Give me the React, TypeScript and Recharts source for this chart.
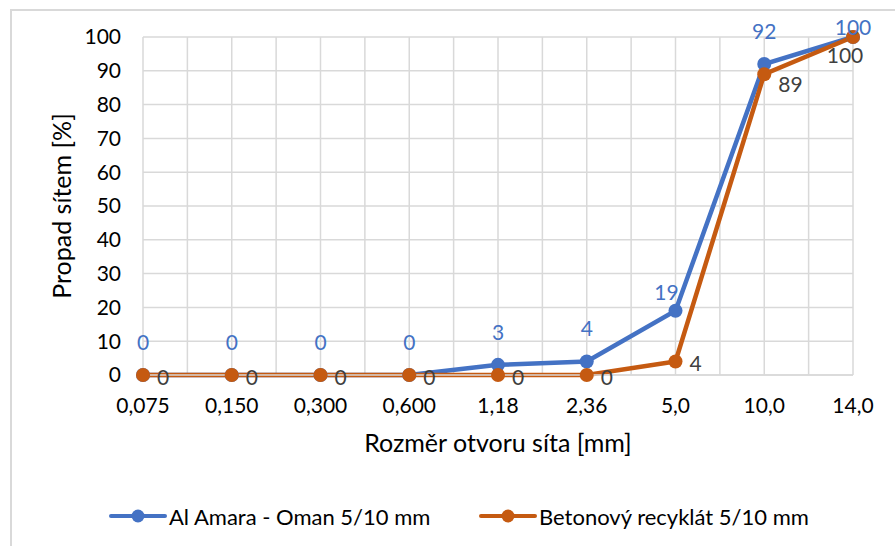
import React from "react";
import { CartesianGrid, Label, Line, LineChart, XAxis, YAxis } from "recharts";

const sieveSizes = ["0,075", "0,150", "0,300", "0,600", "1,18", "2,36", "5,0", "10,0", "14,0"];
const alAmara = [0, 0, 0, 0, 3, 4, 19, 92, 100];
const recyklat = [0, 0, 0, 0, 0, 0, 4, 89, 100];
const yTicks = [0, 10, 20, 30, 40, 50, 60, 70, 80, 90, 100];
const seriesNames = ["Al Amara - Oman 5/10 mm", "Betonový recyklát 5/10 mm"];

const BLUE = "#4472C4";
const ORANGE = "#C55A11";
const GRID = "#D9D9D9";
const FONT = "Lato, 'Open Sans', sans-serif";

const data = sieveSizes.map((size, i) => ({
  size,
  alAmara: alAmara[i],
  recyklat: recyklat[i],
}));

function BlueLabel(props: any) {
  const { x, y, value, index } = props;
  let dx = 0;
  let dy = -25;
  if (index === 6) {
    dx = -9;
    dy = -11;
  }
  if (index === 8) dy = -2;
  return (
    <text x={x + dx} y={y + dy} textAnchor="middle" fill={BLUE} fontSize={21} fontFamily={FONT}>
      {value}
    </text>
  );
}

function OrangeLabel(props: any) {
  const { x, y, value, index } = props;
  let dx = 14;
  let dy = 10;
  let anchor = "start";
  if (index === 7) dy = 18;
  if (index === 8) {
    dx = -8;
    dy = 26;
    anchor = "middle";
  }
  return (
    <text x={x + dx} y={y + dy} textAnchor={anchor} fill="#404040" fontSize={21} fontFamily={FONT}>
      {value}
    </text>
  );
}

function LegendItem({ color, name, left }: { color: string; name: string; left: number }) {
  return (
    <div style={{ position: "absolute", left, top: 502, display: "flex", alignItems: "center" }}>
      <svg width={58} height={28}>
        <line x1={2} y1={14} x2={56} y2={14} stroke={color} strokeWidth={4} strokeLinecap="round" />
        <circle cx={29} cy={14} r={6.5} fill={color} />
      </svg>
      <span style={{ fontFamily: FONT, fontSize: 22, color: "#000", marginLeft: 2 }}>{name}</span>
    </div>
  );
}

export default function App() {
  return (
    <div style={{ position: "absolute", left: 0, top: 0, width: 895, height: 546, background: "#fff" }}>
      <div
        style={{
          position: "absolute",
          left: 10,
          top: 9,
          width: 890,
          height: 540,
          borderTop: `2px solid ${GRID}`,
          borderLeft: `2px solid ${GRID}`,
        }}
      />
      <div style={{ position: "absolute", left: 0, top: 0 }}>
        <LineChart width={895} height={546} data={data} margin={{ top: 37, right: 42, bottom: 71, left: 0 }}>
          <CartesianGrid
            stroke={GRID}
            strokeWidth={1.5}
            verticalCoordinatesGenerator={({ offset }: any) =>
              Array.from({ length: 17 }, (_, i) => offset.left + (i * offset.width) / 16)
            }
          />
          <XAxis
            dataKey="size"
            height={100}
            tickLine={false}
            tickSize={0}
            tickMargin={23}
            axisLine={{ stroke: GRID, strokeWidth: 1.5 }}
            tick={{ fill: "#000", fontSize: 21, fontFamily: FONT }}
            interval={0}
          >
            <Label
              content={({ viewBox }: any) => (
                <text
                  x={viewBox.x + viewBox.width / 2}
                  y={viewBox.y + 77}
                  textAnchor="middle"
                  fill="#000"
                  fontSize={25}
                  fontFamily={FONT}
                >
                  Rozměr otvoru síta [mm]
                </text>
              )}
            />
          </XAxis>
          <YAxis
            width={143}
            domain={[0, 100]}
            ticks={yTicks}
            interval={0}
            axisLine={false}
            tickLine={false}
            tickSize={0}
            tickMargin={22}
            tick={{ fill: "#000", fontSize: 21, fontFamily: FONT }}
          >
            <Label
              content={({ viewBox }: any) => {
                const cx = 71;
                const cy = viewBox.y + viewBox.height / 2;
                return (
                  <text
                    x={cx}
                    y={cy}
                    transform={`rotate(-90 ${cx} ${cy})`}
                    textAnchor="middle"
                    fill="#000"
                    fontSize={25}
                    fontFamily={FONT}
                  >
                    Propad sítem [%]
                  </text>
                );
              }}
            />
          </YAxis>
          <Line
            dataKey="alAmara"
            name={seriesNames[0]}
            stroke={BLUE}
            strokeWidth={4.5}
            dot={{ r: 7, fill: BLUE, stroke: BLUE, strokeWidth: 0 }}
            label={BlueLabel}
            isAnimationActive={false}
          />
          <Line
            dataKey="recyklat"
            name={seriesNames[1]}
            stroke={ORANGE}
            strokeWidth={4.5}
            dot={{ r: 7, fill: ORANGE, stroke: ORANGE, strokeWidth: 0 }}
            label={OrangeLabel}
            isAnimationActive={false}
          />
        </LineChart>
      </div>
      <LegendItem color={BLUE} name={seriesNames[0]} left={109} />
      <LegendItem color={ORANGE} name={seriesNames[1]} left={479} />
    </div>
  );
}
